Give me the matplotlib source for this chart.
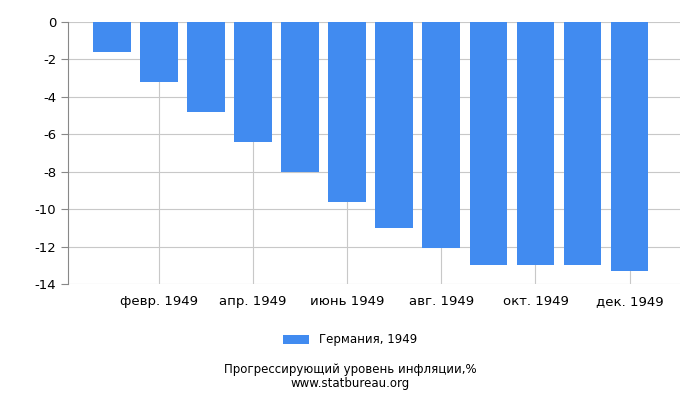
import matplotlib.pyplot as plt
import numpy as np

months = ["янв. 1949", "февр. 1949", "март 1949", "апр. 1949", "май 1949", "июнь 1949",
          "июль 1949", "авг. 1949", "сент. 1949", "окт. 1949", "нояб. 1949", "дек. 1949"]
values = [-1.6, -3.2, -4.8, -6.4, -8.0, -9.6, -11.0, -12.1, -13.0, -13.0, -13.0, -13.3]
yticks = [0, -2, -4, -6, -8, -10, -12, -14]

fig = plt.figure(figsize=(7, 4), dpi=100)
ax = fig.add_axes([68 / 700, 1 - 284 / 400, 612 / 700, 262 / 400])
x = np.arange(len(values))
ax.bar(x, values, width=0.8, color="#418bf0", label="Германия, 1949", zorder=2)
ax.set_xlim(-0.93, 12.07)
ax.set_ylim(-14, 0)
ax.set_yticks(yticks)
ax.set_yticklabels([str(v) for v in yticks], fontsize=9.5)
ax.set_xticks(x[1::2])
ax.set_xticklabels(months[1::2], fontsize=9.5)
ax.grid(True, color="#c8c8c8", linewidth=0.8, zorder=0)
for s in ["top", "right"]:
    ax.spines[s].set_visible(False)
ax.spines["left"].set_color("#888888")
ax.spines["bottom"].set_visible(False)
ax.tick_params(axis="x", length=0, pad=8)
ax.tick_params(axis="y", length=5, color="#888888")

fig.legend(loc="center", bbox_to_anchor=(0.5, 1 - 340 / 400), frameon=False, fontsize=8.5,
           handlelength=2.2, handleheight=0.8)
fig.text(0.5, 1 - 370 / 400, "Прогрессирующий уровень инфляции,%", ha="center", va="center", fontsize=8.5)
fig.text(0.5, 1 - 383 / 400, "www.statbureau.org", ha="center", va="center", fontsize=8.5)
fig.savefig("out.png")
